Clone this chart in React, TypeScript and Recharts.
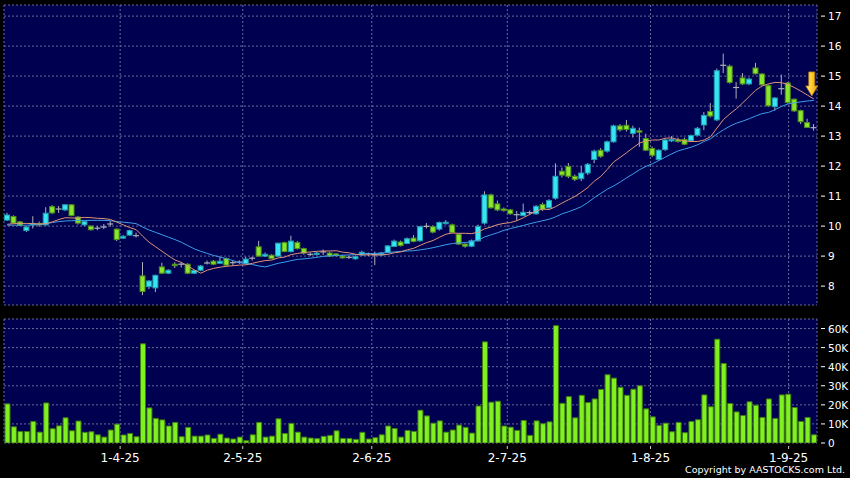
import React from 'react';
import { ComposedChart, Bar, Line, XAxis, YAxis, CartesianGrid, ReferenceDot } from 'recharts';

const FONT = '"DejaVu Sans", Verdana, sans-serif';
const BG = '#000050';
const GRID = '#6a6a98';

const opens = [
  10.20, 10.32, 10.14, 9.85, 10.08, 10.09, 10.04, 10.65, 10.57, 10.54,
  10.71, 10.30, 10.04, 10.00, 9.93, 9.97, 10.07, 9.90, 9.60, 9.70,
  9.68, 8.34, 7.98, 7.94, 8.64, 8.43, 8.73, 8.73, 8.73, 8.43,
  8.53, 8.77, 8.83, 8.76, 8.92, 8.78, 8.80, 8.75, 8.93, 9.31,
  9.00, 9.03, 9.00, 9.45, 9.15, 9.45, 9.25, 9.06, 9.06, 9.14,
  9.10, 9.07, 9.00, 8.96, 8.91, 9.04, 9.08, 9.05, 9.04, 9.12,
  9.32, 9.47, 9.42, 9.60, 9.51, 9.99, 9.98, 9.90, 10.10, 10.04,
  9.73, 9.40, 9.33, 9.51, 10.10, 11.04, 10.74, 10.57, 10.54, 10.38,
  10.35, 10.45, 10.41, 10.72, 10.61, 10.93, 11.83, 11.99, 11.66, 11.58,
  11.77, 12.22, 12.53, 12.50, 12.81, 13.34, 13.36, 13.09, 13.18, 12.92,
  12.59, 12.22, 12.55, 12.86, 12.87, 12.89, 12.84, 13.03, 13.37, 13.82,
  13.54, 15.36, 15.33, 14.62, 14.94, 14.74, 15.27, 15.07, 14.68, 13.98,
  14.58, 14.77, 14.23, 13.85, 13.45, 13.28,
];
const highs = [
  10.44, 10.36, 10.17, 10.00, 10.33, 10.15, 10.63, 10.70, 10.67, 10.73,
  10.73, 10.34, 10.18, 10.02, 10.00, 10.07, 10.17, 9.92, 9.70, 9.88,
  9.78, 8.80, 8.20, 8.38, 8.78, 8.56, 8.80, 8.80, 8.76, 8.55,
  8.70, 8.85, 8.87, 8.97, 8.95, 8.85, 8.86, 8.98, 8.98, 9.51,
  9.12, 9.06, 9.45, 9.48, 9.68, 9.50, 9.28, 9.12, 9.14, 9.22,
  9.14, 9.10, 9.04, 9.02, 9.02, 9.18, 9.12, 9.15, 9.14, 9.36,
  9.55, 9.52, 9.62, 9.70, 10.00, 10.10, 10.02, 10.15, 10.20, 10.08,
  9.76, 9.43, 9.55, 10.05, 11.16, 11.08, 10.85, 10.62, 10.57, 10.50,
  10.75, 10.52, 10.70, 10.78, 10.90, 12.09, 11.95, 12.10, 11.72, 12.00,
  12.10, 12.55, 12.60, 12.85, 13.38, 13.40, 13.54, 13.35, 13.28, 13.08,
  12.65, 12.56, 12.92, 13.00, 12.95, 12.95, 13.05, 13.30, 13.80, 14.10,
  15.25, 15.75, 15.38, 14.80, 15.10, 14.95, 15.44, 15.10, 14.72, 14.30,
  15.05, 14.80, 14.25, 13.88, 13.58, 13.40,
];
const lows = [
  10.17, 10.08, 10.00, 9.80, 9.92, 9.98, 10.02, 10.40, 10.44, 10.50,
  10.33, 10.05, 10.00, 9.85, 9.86, 9.90, 9.98, 9.50, 9.57, 9.68,
  9.62, 7.70, 7.90, 7.80, 8.40, 8.40, 8.60, 8.62, 8.40, 8.40,
  8.50, 8.72, 8.70, 8.74, 8.66, 8.70, 8.74, 8.73, 8.85, 8.98,
  8.97, 8.90, 8.98, 9.13, 9.12, 9.22, 9.05, 9.00, 9.03, 9.03,
  8.97, 8.98, 8.92, 8.90, 8.88, 9.02, 9.00, 8.70, 9.00, 9.10,
  9.30, 9.32, 9.40, 9.46, 9.48, 9.92, 9.76, 9.85, 10.05, 9.76,
  9.38, 9.28, 9.30, 9.48, 10.05, 10.58, 10.50, 10.48, 10.38, 10.18,
  10.33, 10.38, 10.38, 10.50, 10.58, 10.88, 11.62, 11.60, 11.50, 11.50,
  11.70, 12.10, 12.28, 12.45, 12.78, 13.15, 13.15, 12.95, 12.64, 12.50,
  12.30, 12.18, 12.50, 12.80, 12.78, 12.70, 12.80, 13.00, 13.20, 13.62,
  13.50, 15.10, 14.75, 14.25, 14.70, 14.70, 15.05, 14.68, 13.98, 13.85,
  14.38, 14.08, 13.80, 13.40, 13.28, 13.18,
];
const closes = [
  10.37, 10.10, 10.03, 9.97, 10.09, 10.05, 10.43, 10.44, 10.57, 10.71,
  10.35, 10.10, 10.15, 9.88, 9.93, 9.97, 10.07, 9.55, 9.66, 9.85,
  9.68, 7.82, 8.17, 8.36, 8.43, 8.53, 8.68, 8.73, 8.43, 8.52,
  8.67, 8.77, 8.73, 8.83, 8.70, 8.78, 8.80, 8.90, 8.93, 9.00,
  9.06, 8.92, 9.43, 9.15, 9.50, 9.25, 9.10, 9.06, 9.10, 9.14,
  9.00, 9.02, 8.94, 8.96, 8.98, 9.13, 9.08, 9.05, 9.10, 9.34,
  9.50, 9.35, 9.58, 9.49, 9.98, 9.99, 9.80, 10.12, 10.13, 9.79,
  9.40, 9.33, 9.51, 9.99, 11.04, 10.61, 10.54, 10.55, 10.41, 10.38,
  10.46, 10.45, 10.66, 10.55, 10.85, 11.66, 11.70, 11.66, 11.56, 11.77,
  12.06, 12.50, 12.33, 12.81, 13.34, 13.21, 13.22, 13.26, 13.15, 12.53,
  12.36, 12.53, 12.87, 12.89, 12.82, 12.73, 13.02, 13.26, 13.69, 13.67,
  15.18, 15.36, 14.79, 14.62, 14.74, 14.90, 15.08, 14.71, 14.01, 14.27,
  14.58, 14.12, 13.84, 13.48, 13.29, 13.28,
];
const ma10 = [
  10.06, 10.08, 10.09, 10.09, 10.08, 10.07, 10.08, 10.14, 10.22, 10.28,
  10.27, 10.27, 10.29, 10.28, 10.26, 10.25, 10.22, 10.13, 10.04, 9.95,
  9.88, 9.66, 9.46, 9.31, 9.16, 9.01, 8.87, 8.79, 8.67, 8.54,
  8.43, 8.53, 8.59, 8.63, 8.66, 8.68, 8.70, 8.71, 8.76, 8.81,
  8.85, 8.87, 8.94, 8.97, 9.05, 9.09, 9.12, 9.14, 9.16, 9.17,
  9.17, 9.18, 9.13, 9.11, 9.06, 9.04, 9.04, 9.04, 9.04, 9.06,
  9.11, 9.14, 9.21, 9.26, 9.36, 9.45, 9.52, 9.63, 9.73, 9.77,
  9.76, 9.76, 9.75, 9.80, 9.91, 9.97, 10.05, 10.09, 10.12, 10.18,
  10.28, 10.39, 10.51, 10.57, 10.55, 10.65, 10.77, 10.88, 10.99, 11.13,
  11.29, 11.50, 11.66, 11.89, 12.14, 12.29, 12.45, 12.61, 12.77, 12.84,
  12.87, 12.87, 12.93, 12.94, 12.88, 12.84, 12.82, 12.82, 12.87, 12.98,
  13.27, 13.55, 13.74, 13.91, 14.11, 14.32, 14.53, 14.67, 14.74, 14.79,
  14.78, 14.72, 14.62, 14.50, 14.37, 14.24,
];
const ma20 = [
  10.03, 10.03, 10.03, 10.03, 10.04, 10.05, 10.08, 10.12, 10.15, 10.17,
  10.18, 10.19, 10.19, 10.19, 10.19, 10.19, 10.18, 10.15, 10.13, 10.11,
  10.08, 9.97, 9.87, 9.79, 9.71, 9.63, 9.55, 9.46, 9.35, 9.24,
  9.16, 9.09, 9.02, 8.97, 8.91, 8.85, 8.78, 8.75, 8.72, 8.67,
  8.64, 8.70, 8.76, 8.80, 8.85, 8.89, 8.91, 8.93, 8.96, 8.99,
  9.01, 9.02, 9.03, 9.04, 9.05, 9.07, 9.08, 9.09, 9.10, 9.12,
  9.14, 9.16, 9.17, 9.18, 9.21, 9.24, 9.28, 9.33, 9.38, 9.42,
  9.44, 9.45, 9.48, 9.53, 9.64, 9.71, 9.78, 9.86, 9.92, 9.97,
  10.02, 10.08, 10.13, 10.18, 10.23, 10.31, 10.41, 10.48, 10.56, 10.65,
  10.79, 10.95, 11.09, 11.23, 11.34, 11.47, 11.61, 11.74, 11.88, 11.99,
  12.08, 12.19, 12.30, 12.41, 12.51, 12.57, 12.63, 12.71, 12.82, 12.91,
  13.07, 13.21, 13.33, 13.43, 13.50, 13.58, 13.67, 13.75, 13.79, 13.88,
  13.99, 14.07, 14.11, 14.14, 14.17, 14.19,
];
const volumes = [
  20500, 8500, 6000, 6000, 11300, 5700, 21000, 7500, 9000, 13200,
  6400, 11500, 5600, 5900, 4300, 3100, 6800, 9900, 4200, 5000,
  3300, 52000, 18400, 12900, 12100, 8900, 10800, 3300, 8200, 3600,
  3600, 4200, 2400, 4600, 2600, 2100, 3100, 1200, 4300, 10800,
  3100, 3600, 12700, 5000, 10300, 5700, 3100, 2600, 2300, 3500,
  4000, 6400, 2400, 2400, 1900, 5600, 2100, 2800, 4300, 8900,
  7600, 3100, 6600, 6100, 17200, 14200, 10400, 11600, 5700, 6800,
  9400, 8200, 5200, 19400, 53000, 21400, 21900, 8900, 8300, 6600,
  11800, 4000, 11600, 10100, 11100, 61500, 20800, 24300, 13200, 25000,
  21200, 23100, 28100, 35800, 34000, 29200, 25000, 28200, 30000, 17900,
  13700, 9200, 10400, 5900, 10800, 5400, 11300, 12200, 25200, 19000,
  54400, 41700, 20700, 16300, 14400, 21600, 19800, 13400, 23100, 12900,
  25200, 25600, 18600, 11300, 13400, 4300,
];

const tickIdx = [18, 37, 57, 78, 100.2, 121.6];
const tickLabels = ['1-4-25', '2-5-25', '2-6-25', '2-7-25', '1-8-25', '1-9-25'];
const priceTicks = [8, 9, 10, 11, 12, 13, 14, 15, 16, 17];
const volTicks = [0, 10000, 20000, 30000, 40000, 50000, 60000];

const data = closes.map((c, i) => ({
  x: i + 0.5,
  open: opens[i],
  high: highs[i],
  low: lows[i],
  close: c,
  ma10: ma10[i],
  ma20: ma20[i],
  vol: volumes[i],
}));
const last = data[data.length - 1];

function Candle(props: any) {
  const { x, y, width, height, payload } = props;
  if (!payload || x == null) return null;
  const top = Math.min(y, y + height);
  const h = Math.abs(height);
  const { open, close, high, low } = payload;
  const span = high - low || 1;
  const py = (p: number) => top + ((high - p) / span) * h;
  const cx = x + width / 2;
  const yo = py(open);
  const yc = py(close);
  const wick = '#b0b0b8';
  if (Math.abs(close - open) < 0.004) {
    return (
      <g>
        <line x1={cx} x2={cx} y1={top} y2={top + h} stroke={wick} strokeWidth={1} />
        <line x1={cx - 3} x2={cx + 3} y1={yo} y2={yo} stroke={wick} strokeWidth={1.2} />
      </g>
    );
  }
  const up = close > open;
  const bt = Math.min(yo, yc);
  const bh = Math.max(Math.abs(yc - yo), 1.5);
  return (
    <g>
      <line x1={cx} x2={cx} y1={top} y2={top + h} stroke={wick} strokeWidth={1} />
      <rect
        x={cx - 2.5}
        y={bt}
        width={5}
        height={bh}
        fill={up ? '#38e4f4' : '#88e62c'}
        stroke={up ? '#1d9cac' : '#4e8c1a'}
        strokeWidth={1}
      />
    </g>
  );
}

function Arrow(props: any) {
  const { cx, cy } = props;
  if (cx == null) return null;
  const tx = cx - 2;
  const ty = cy - 3;
  const pts = [
    [tx - 3, ty - 24],
    [tx + 3, ty - 24],
    [tx + 3, ty - 10],
    [tx + 6, ty - 10],
    [tx, ty],
    [tx - 6, ty - 10],
    [tx - 3, ty - 10],
  ]
    .map((p) => p.join(','))
    .join(' ');
  return (
    <g>
      <defs>
        <linearGradient id="arrowGrad" x1="0" y1="0" x2="1" y2="0">
          <stop offset="0" stopColor="#fff2a0" />
          <stop offset="0.45" stopColor="#ffd030" />
          <stop offset="1" stopColor="#e89a10" />
        </linearGradient>
      </defs>
      <polygon points={pts} fill="url(#arrowGrad)" stroke="#b87810" strokeWidth={0.8} />
    </g>
  );
}

function YTick(props: any) {
  const { x, y, payload, fmt } = props;
  return (
    <g>
      <line x1={x + 4} x2={x + 8} y1={y} y2={y} stroke="#ffffff" strokeWidth={1} />
      <text x={x + 11} y={y} dy={4} fill="#ffffff" fontSize={10.5} fontFamily={FONT}>
        {fmt(payload.value)}
      </text>
    </g>
  );
}

function XTick(props: any) {
  const { x, y, payload } = props;
  const i = tickIdx.indexOf(payload.value);
  return (
    <g>
      <line x1={x} x2={x} y1={y + 3} y2={y + 6} stroke="#cccccc" strokeWidth={1} />
      <text x={x} y={y + 19} textAnchor="middle" fill="#ffffff" fontSize={12} fontFamily={FONT}>
        {tickLabels[i]}
      </text>
    </g>
  );
}

const priceFmt = (v: number) => String(v);
const volFmt = (v: number) => (v === 0 ? '0' : `${v / 1000}K`);

export default function App() {
  return (
    <div
      style={{
        position: 'fixed',
        left: 0,
        top: 0,
        width: 850,
        height: 478,
        background: '#000000',
        overflow: 'hidden',
      }}
    >
      <div style={{ position: 'absolute', left: 0, top: 0 }}>
        <ComposedChart width={850} height={310} data={data} margin={{ top: 5, right: 0, bottom: 5, left: 4 }}>
          <CartesianGrid fill={BG} stroke={GRID} strokeDasharray="2 2" vertical={true} horizontal={true} />
          <XAxis
            dataKey="x"
            type="number"
            domain={[0, 126]}
            ticks={tickIdx}
            interval={0}
            allowDataOverflow
            hide
          />
          <YAxis
            orientation="right"
            width={33}
            domain={[7.37, 17.37]}
            ticks={priceTicks}
            interval={0}
            allowDataOverflow
            axisLine={false}
            tickLine={false}
            tickSize={0}
            tickMargin={0}
            tick={<YTick fmt={priceFmt} />}
          />
          <Bar
            dataKey={(d: any) => [d.low, d.high]}
            barSize={6}
            shape={<Candle />}
            isAnimationActive={false}
          />
          <Line type="linear" dataKey="ma20" stroke="#3c9ee8" strokeWidth={1} dot={false} isAnimationActive={false} />
          <Line type="linear" dataKey="ma10" stroke="#e09478" strokeWidth={1} dot={false} isAnimationActive={false} />
          <ReferenceDot x={last.x} y={last.ma10} r={0} shape={<Arrow />} />
        </ComposedChart>
      </div>
      <div style={{ position: 'absolute', left: 0, top: 313 }}>
        <ComposedChart width={850} height={165} data={data} margin={{ top: 6, right: 0, bottom: 15, left: 4 }}>
          <CartesianGrid fill={BG} stroke={GRID} strokeDasharray="2 2" vertical={true} horizontal={true} />
          <XAxis
            dataKey="x"
            type="number"
            domain={[0, 126]}
            ticks={tickIdx}
            interval={0}
            allowDataOverflow
            height={20}
            axisLine={false}
            tickLine={false}
            tickSize={0}
            tickMargin={0}
            tick={<XTick />}
          />
          <YAxis
            orientation="right"
            width={33}
            domain={[0, 65000]}
            ticks={volTicks}
            interval={0}
            allowDataOverflow
            axisLine={false}
            tickLine={false}
            tickSize={0}
            tickMargin={0}
            tick={<YTick fmt={volFmt} />}
          />
          <Bar dataKey="vol" barSize={5} fill="#80f020" stroke="#3f7d12" strokeWidth={1} isAnimationActive={false} />
        </ComposedChart>
      </div>
      <div
        style={{
          position: 'absolute',
          right: 5,
          top: 464,
          fontFamily: FONT,
          fontSize: 9.5,
          lineHeight: '12px',
          color: '#ffffff',
          whiteSpace: 'nowrap',
        }}
      >
        Copyright by AASTOCKS.com Ltd.
      </div>
    </div>
  );
}
